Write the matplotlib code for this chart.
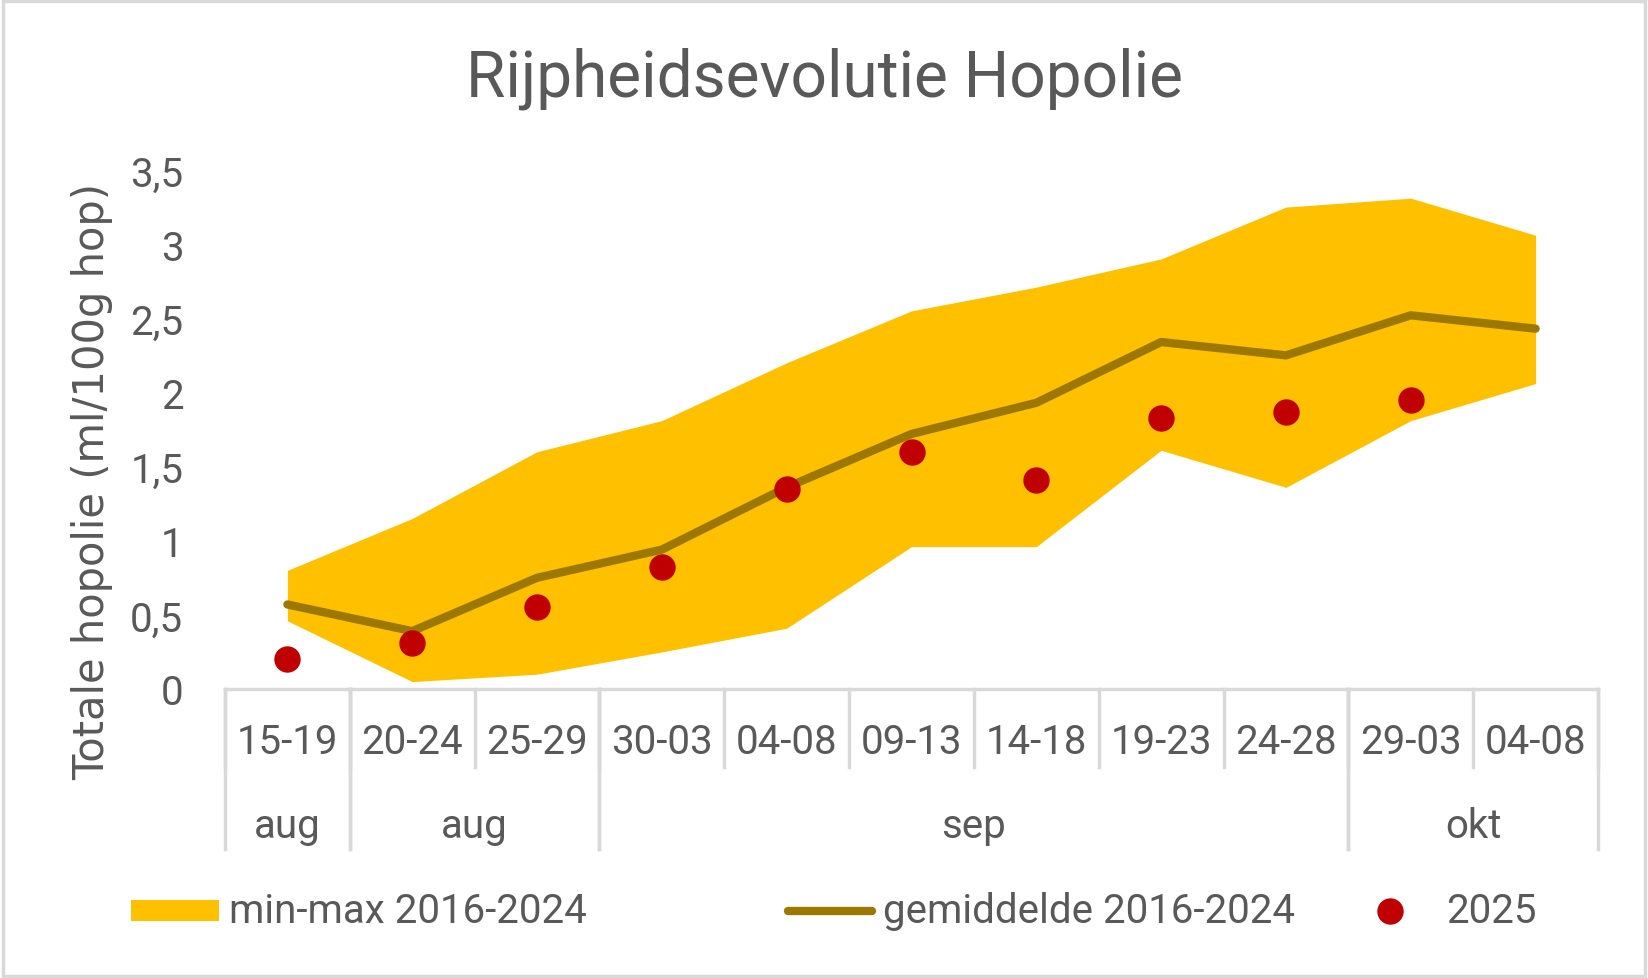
import numpy as np
import matplotlib
matplotlib.use('Agg')
import matplotlib.pyplot as plt
from matplotlib.ticker import FuncFormatter
from matplotlib.patches import Rectangle
from matplotlib.lines import Line2D
import matplotlib.transforms as mtrans

plt.rcParams['font.family'] = ['Roboto', 'DejaVu Sans']

# data
weeks = ['15-19', '20-24', '25-29', '30-03', '04-08', '09-13', '14-18',
         '19-23', '24-28', '29-03', '04-08']
months = ['aug', 'aug', 'sep', 'okt']
month_start = [0, 1, 3, 9]   # first week index of each month group
month_end = [0, 2, 8, 10]    # last week index of each month group
band_max = [0.80, 1.15, 1.60, 1.81, 2.20, 2.55, 2.71, 2.90, 3.25, 3.31, 3.06]
band_min = [0.46, 0.05, 0.10, 0.25, 0.41, 0.96, 0.96, 1.61, 1.36, 1.81, 2.06]
mean_16_24 = [0.57, 0.39, 0.75, 0.94, 1.36, 1.72, 1.93, 2.34, 2.25, 2.52, 2.43]
y2025 = [0.20, 0.31, 0.55, 0.82, 1.35, 1.60, 1.41, 1.83, 1.87, 1.95, np.nan]

TXT = '#595959'
GRID = '#D9D9D9'
GOLD = '#FFC000'
BROWN = '#9C7800'
RED = '#C00000'
FS = 29

fig = plt.figure(figsize=(16.48, 9.79), dpi=100)
fig.patches.append(Rectangle((0.002, 0.002), 0.996, 0.996, transform=fig.transFigure,
                             fill=False, edgecolor=GRID, lw=2.5))
ax = fig.add_axes([225/1648, 1-690/979, (1598-225)/1648, (690-171)/979])

x = np.arange(len(weeks))
ax.fill_between(x, band_min, band_max, color=GOLD, lw=0)
ax.plot(x, mean_16_24, color=BROWN, lw=6, solid_capstyle='round',
        solid_joinstyle='round')
ax.plot(x, y2025, 'o', color=RED, ms=18, mec=RED)

ax.set_xlim(-0.5, len(weeks)-0.5)
ax.set_ylim(0, 3.5)
ax.set_yticks(np.arange(0, 3.51, 0.5))
ax.yaxis.set_major_formatter(FuncFormatter(lambda v, p: f'{v:g}'.replace('.', ',')))
ax.tick_params(axis='y', length=0, pad=30, labelsize=FS, labelcolor=TXT)
ax.set_xticks([])
for s in ['top', 'right', 'left']:
    ax.spines[s].set_visible(False)
ax.spines['bottom'].set_color(GRID)
ax.spines['bottom'].set_linewidth(2.5)

# multi-level category axis
tr = mtrans.blended_transform_factory(ax.transData, fig.transFigure)
y_axis = 1-690/979
y_short = 1-768/979
y_long = 1-850/979
for i, w in enumerate(weeks):
    ax.text(i, 1-743/979, w, transform=tr, ha='center', va='center',
            fontsize=FS, color=TXT)
for i in range(len(weeks)+1):
    ax.plot([i-0.5, i-0.5], [y_axis, y_short], transform=tr, color=GRID,
            lw=2.5, clip_on=False)
for m, s, e in zip(months, month_start, month_end):
    ax.text((s+e)/2, 1-827/979, m, transform=tr, ha='center', va='center',
            fontsize=FS, color=TXT)
    for b in (s-0.5, e+0.5):
        ax.plot([b, b], [y_axis, y_long], transform=tr, color=GRID,
                lw=2.5, clip_on=False)

fig.text(0.5, 1-79/979, 'Rijpheidsevolutie Hopolie', ha='center', va='center',
         fontsize=46, color=TXT)
fig.text(92/1648, 1-481/979, 'Totale hopolie (ml/100g hop)', rotation=90,
         ha='center', va='center', fontsize=30, color=TXT, family='DejaVu Sans')

# legend, drawn by hand to match spacing
ly = 1-912/979
fig.patches.append(Rectangle((131/1648, 1-922/979), 88/1648, 21/979,
                             transform=fig.transFigure, color=GOLD, lw=0))
fig.text(229/1648, ly, 'min-max 2016-2024', va='center', fontsize=FS, color=TXT)
fig.lines.append(Line2D([788/1648, 872/1648], [ly, ly], transform=fig.transFigure,
                        color=BROWN, lw=6, solid_capstyle='round'))
fig.text(883/1648, ly, 'gemiddelde 2016-2024', va='center', fontsize=FS, color=TXT)
fig.lines.append(Line2D([1390/1648], [ly], transform=fig.transFigure, marker='o',
                        ls='', color=RED, ms=18))
fig.text(1446/1648, ly, '2025', va='center', fontsize=FS, color=TXT)

fig.savefig('out.png', dpi=100)
